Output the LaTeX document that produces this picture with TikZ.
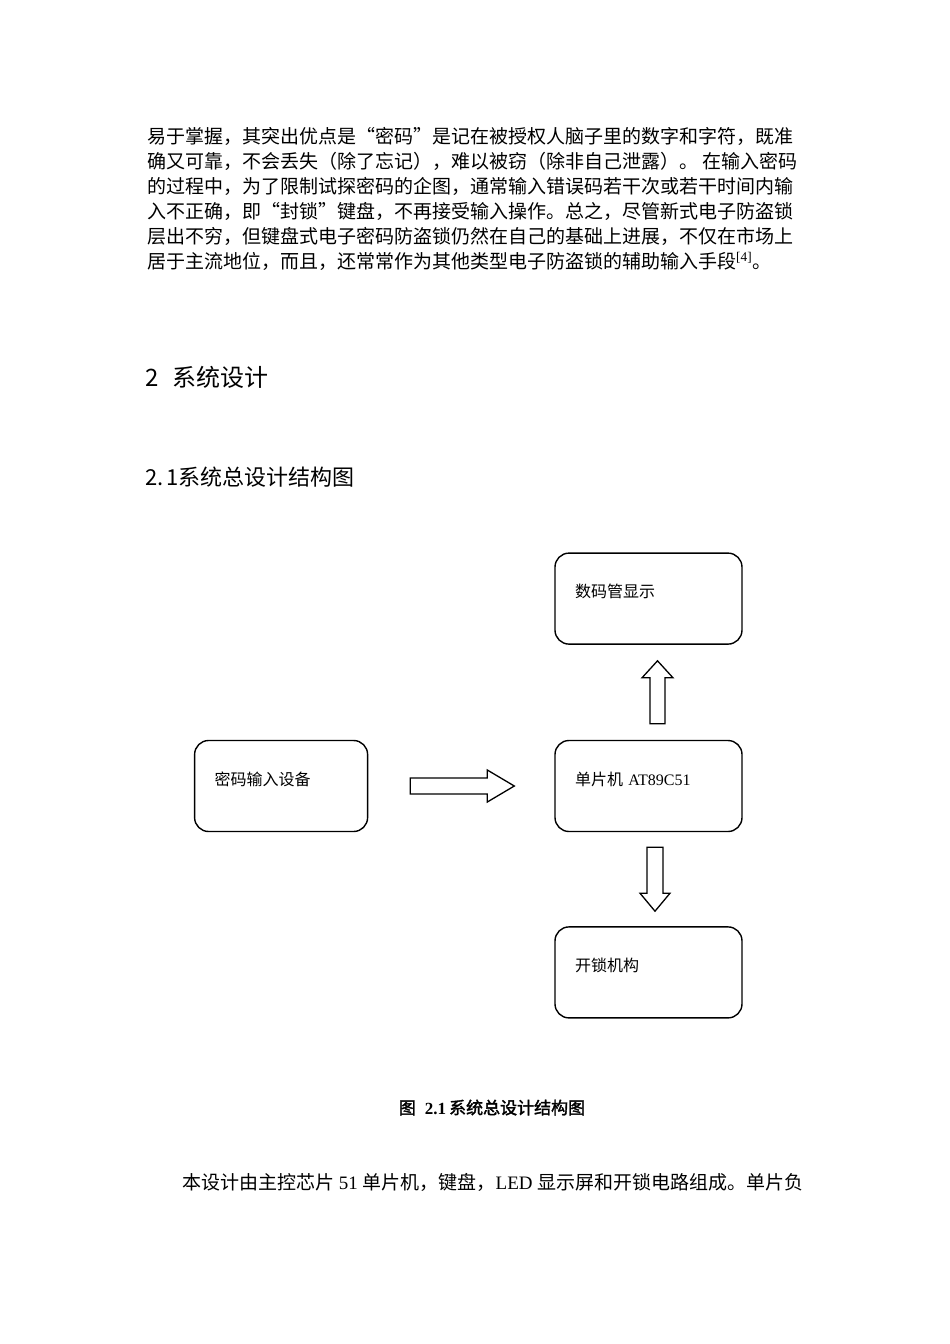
\documentclass[tikz,border=0pt]{standalone}
\usepackage{fontspec}
\setmainfont{Liberation Serif}
\newfontfamily\zh[AutoFakeBold=2]{Noto Sans CJK SC}
\usetikzlibrary{positioning}

\tikzset{
  blockbox/.style={draw, line width=1.4pt, rounded corners=14pt, minimum height=91pt,
    text width=147pt, inner xsep=20pt, inner ysep=0pt, align=left,
    text height=14pt, text depth=16pt, font=\fontsize{16}{19}\selectfont},
  blockarrow/.style={draw, line width=1.3pt, line join=miter},
  bodyline/.style={anchor=base west, inner sep=0pt, font=\fontsize{19}{25}\selectfont},
}

\begin{document}
\begin{tikzpicture}[x=1pt,y=-1pt]
  \fill[white] (0,0) rectangle (950,1344);
  \useasboundingbox (0,0) rectangle (950,1344);

  % body text above the figure
  \node[bodyline] (l1) at (147,143.2) {\zh 易于掌握，其突出优点是“密码”是记在被授权人脑子里的数字和字符，既准};
  \node[bodyline] (l2) at (147,168.2) {\zh 确又可靠，不会丢失（除了忘记），难以被窃（除非自己泄露）。 在输入密码};
  \node[bodyline] (l3) at (147,193.2) {\zh 的过程中，为了限制试探密码的企图，通常输入错误码若干次或若干时间内输};
  \node[bodyline] (l4) at (147,218.2) {\zh 入不正确，即“封锁”键盘，不再接受输入操作。总之，尽管新式电子防盗锁};
  \node[bodyline] (l5) at (147,243.2) {\zh 层出不穷，但键盘式电子密码防盗锁仍然在自己的基础上进展，不仅在市场上};
  \node[bodyline] (l6) at (147,268.2) {{\zh 居于主流地位，而且，还常常作为其他类型电子防盗锁的辅助输入手段}\textsuperscript{[4]}{\zh 。}};

  % headings
  \node[anchor=base west, inner sep=0pt, font=\fontsize{24}{28}\selectfont] (sec) at (145,386)
    {\zh 2\hspace{14pt}系统设计};
  \node[anchor=base west, inner sep=0pt, font=\fontsize{22}{26}\selectfont] (subsec) at (145,485)
    {\zh 2.\hspace{3pt}1系统总设计结构图};

  % blocks
  \node[blockbox] (mcu) at (648.5,786) {{\zh 单片机} AT89C51};
  \node[blockbox, above=95pt of mcu] (disp) {\zh 数码管显示};
  \node[blockbox, below=94pt of mcu] (lock) {\zh 开锁机构};
  \node[blockbox, text width=133pt, left=186pt of mcu] (input) {\zh 密码输入设备};

  % hollow arrows
  \draw[blockarrow] ([xshift=42pt,yshift=8pt]input.east) -- ++(77,0) -- ++(0,-8)
    -- ++(27,16) -- ++(-27,16) -- ++(0,-8) -- ++(-77,0) -- cycle;
  \draw[blockarrow] ([xshift=1.5pt,yshift=16pt]mcu.north) -- ++(0,-46) -- ++(-8,0)
    -- ++(15.5,-17) -- ++(15.5,17) -- ++(-8,0) -- ++(0,46) -- cycle;
  \draw[blockarrow] ([xshift=-1.5pt,yshift=-15pt]mcu.south) -- ++(0,46) -- ++(-7,0)
    -- ++(15,18) -- ++(15,-18) -- ++(-7,0) -- ++(0,-46) -- cycle;

  % caption
  \node[anchor=base, inner sep=0pt, font=\fontsize{17}{20}\selectfont\bfseries] (cap) at (492,1114)
    {{\zh 图}\hspace{9pt}2.1\hspace{3pt}{\zh 系统总设计结构图}};

  % body text below the figure
  \node[bodyline] (l7) at (182,1189.2)
    {{\zh 本设计由主控芯片} 51 {\zh 单片机，键盘，}LED {\zh 显示屏和开锁电路组成。单片负}};
\end{tikzpicture}
\end{document}
